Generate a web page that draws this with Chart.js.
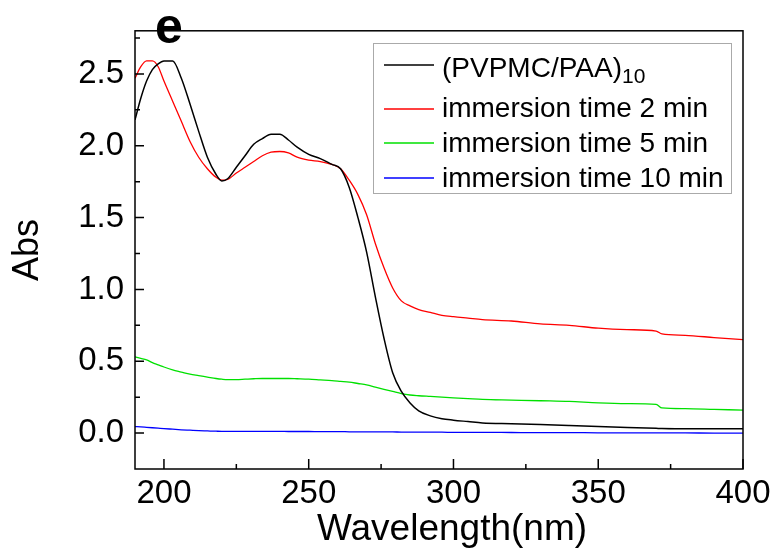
<!DOCTYPE html>
<html>
<head>
<meta charset="utf-8">
<script src="https://cdn.jsdelivr.net/npm/chart.js@4"></script>
<style>
  html, body { margin: 0; padding: 0; background: #fff; }
  #wrap { width: 777px; height: 552px; }
</style>
</head>
<body>
<div id="wrap"><canvas id="absChart" width="777" height="552"></canvas></div>
<script>
// wavelength grid (nm)
const wavelengths = [190, 192, 194, 196, 198, 200, 203, 206, 209, 212, 215, 218, 220, 222, 225, 228, 231, 234, 237, 240,
  243, 246, 250, 254, 258, 261, 264, 267, 270, 273, 276, 279, 282, 285, 288, 292, 296, 300, 305, 310,
  320, 330, 340, 350, 360, 370, 372, 380, 390, 400];

// absorbance of each film
const pvpmcPaa = [2.18, 2.33, 2.45, 2.53, 2.57, 2.59, 2.59, 2.47, 2.29, 2.10, 1.92, 1.80, 1.755, 1.77, 1.85, 1.93, 2.01, 2.05, 2.08, 2.08,
  2.04, 1.99, 1.94, 1.91, 1.87, 1.84, 1.71, 1.50, 1.26, 0.95, 0.66, 0.42, 0.29, 0.21, 0.155, 0.12, 0.10, 0.09, 0.08, 0.07,
  0.065, 0.06, 0.053, 0.045, 0.038, 0.033, 0.032, 0.03, 0.03, 0.03];
const immersion2 = [2.47, 2.55, 2.59, 2.59, 2.55, 2.45, 2.31, 2.17, 2.03, 1.92, 1.84, 1.78, 1.76, 1.765, 1.81, 1.85, 1.89, 1.93, 1.955, 1.96,
  1.95, 1.92, 1.90, 1.89, 1.87, 1.84, 1.76, 1.66, 1.52, 1.32, 1.15, 1.01, 0.92, 0.885, 0.86, 0.84, 0.82, 0.81, 0.80, 0.79,
  0.78, 0.76, 0.75, 0.73, 0.72, 0.71, 0.69, 0.68, 0.665, 0.65];
const immersion5 = [0.53, 0.52, 0.51, 0.49, 0.475, 0.46, 0.44, 0.425, 0.41, 0.40, 0.39, 0.38, 0.375, 0.372, 0.372, 0.375, 0.378, 0.38, 0.38, 0.38,
  0.38, 0.378, 0.375, 0.37, 0.365, 0.36, 0.355, 0.345, 0.335, 0.32, 0.305, 0.29, 0.275, 0.265, 0.26, 0.255, 0.25, 0.245, 0.24, 0.235,
  0.23, 0.225, 0.22, 0.21, 0.205, 0.2, 0.175, 0.17, 0.165, 0.16];
const immersion10 = [0.045, 0.043, 0.04, 0.037, 0.034, 0.031, 0.027, 0.023, 0.02, 0.017, 0.015, 0.013, 0.012, 0.012, 0.012, 0.012, 0.012, 0.012, 0.012, 0.012,
  0.011, 0.011, 0.011, 0.01, 0.01, 0.01, 0.009, 0.009, 0.009, 0.008, 0.008, 0.008, 0.007, 0.007, 0.007, 0.006, 0.006, 0.005, 0.005, 0.005,
  0.004, 0.003, 0.003, 0.002, 0.002, 0.001, 0.001, 0.001, 0.0, 0.0];

const seriesNames = ['(PVPMC/PAA)', 'immersion time 2 min', 'immersion time 5 min', 'immersion time 10 min'];
const seriesColors = ['#000000', '#ff0000', '#00e000', '#0000ff'];

// axis ticks
const xMajor = [200, 250, 300, 350, 400];
const xMinor = [225, 275, 325, 375];
const yMajor = [0.0, 0.5, 1.0, 1.5, 2.0, 2.5];
const yMinor = [0.25, 0.75, 1.25, 1.75, 2.25, 2.75];

const toPoints = (vals) => wavelengths.map((w, i) => ({ x: w, y: vals[i] }));

const allSeries = [pvpmcPaa, immersion2, immersion5, immersion10];
const datasets = allSeries.map((vals, i) => ({
  label: seriesNames[i],
  data: toPoints(vals),
  borderColor: seriesColors[i],
  borderWidth: i === 0 ? 1.5 : 1.3,
  pointRadius: 0,
  cubicInterpolationMode: 'monotone',
  fill: false
}));

const FONT = '"Liberation Sans", Arial, sans-serif';

// frame, inward ticks, legend and labels
const decorations = {
  id: 'decorations',
  afterDraw(chart) {
    const { ctx, chartArea: a, scales: { x, y } } = chart;
    ctx.save();
    ctx.strokeStyle = '#000';
    ctx.lineWidth = 1.5;
    ctx.strokeRect(a.left, a.top, a.right - a.left, a.bottom - a.top);

    ctx.beginPath();
    xMajor.forEach(v => { const px = x.getPixelForValue(v); ctx.moveTo(px, a.bottom); ctx.lineTo(px, a.bottom - 10); });
    xMinor.forEach(v => { const px = x.getPixelForValue(v); ctx.moveTo(px, a.bottom); ctx.lineTo(px, a.bottom - 5); });
    yMajor.forEach(v => { const py = y.getPixelForValue(v); ctx.moveTo(a.left, py); ctx.lineTo(a.left + 9, py); });
    yMinor.forEach(v => { const py = y.getPixelForValue(v); ctx.moveTo(a.left, py); ctx.lineTo(a.left + 5, py); });
    ctx.stroke();

    // panel letter
    ctx.fillStyle = '#000';
    ctx.font = 'bold 50px ' + FONT;
    ctx.textBaseline = 'alphabetic';
    ctx.fillText('e', 155, 43);

    // x title
    ctx.font = '37px ' + FONT;
    ctx.textAlign = 'center';
    ctx.textBaseline = 'middle';
    ctx.fillText('Wavelength(nm)', 452, 530);

    // legend
    ctx.textAlign = 'left';
    ctx.textBaseline = 'alphabetic';
    ctx.strokeStyle = '#aaaaaa';
    ctx.lineWidth = 1;
    ctx.strokeRect(373.5, 43.5, 358, 150);
    const lineY = [65, 109, 143, 178];
    const textY = [77, 117, 152, 187];
    seriesNames.forEach((name, i) => {
      ctx.strokeStyle = seriesColors[i];
      ctx.lineWidth = 1.3;
      ctx.beginPath();
      ctx.moveTo(384, lineY[i]);
      ctx.lineTo(434, lineY[i]);
      ctx.stroke();
      ctx.fillStyle = '#000';
      ctx.font = '28px ' + FONT;
      ctx.fillText(name, 442, textY[i]);
      if (i === 0) {
        const w = ctx.measureText(name).width;
        ctx.font = '21px ' + FONT;
        ctx.fillText('10', 442 + w, textY[i] + 6);
      }
    });
    ctx.restore();
  }
};

const ctx = document.getElementById('absChart').getContext('2d');
const chart = new Chart(ctx, {
  type: 'line',
  data: { datasets: datasets },
  plugins: [decorations],
  options: {
    responsive: false,
    animation: false,
    layout: { padding: { top: 12, right: 34, bottom: 0, left: 0 } },
    plugins: { legend: { display: false }, tooltip: { enabled: false } },
    scales: {
      x: {
        type: 'linear',
        min: 190,
        max: 400,
        afterBuildTicks: (scale) => { scale.ticks = xMajor.map(v => ({ value: v })); },
        afterFit: (scale) => { scale.height = 83; },
        grid: { display: false, drawTicks: false },
        border: { display: false },
        ticks: { color: '#000', font: { family: FONT, size: 33 }, padding: 5, maxRotation: 0 }
      },
      y: {
        type: 'linear',
        min: -0.25,
        max: 2.8,
        afterBuildTicks: (scale) => { scale.ticks = yMajor.map(v => ({ value: v })); },
        afterFit: (scale) => { scale.width = 135; },
        grid: { display: false, drawTicks: false },
        border: { display: false },
        ticks: {
          color: '#000',
          font: { family: FONT, size: 33 },
          padding: 11,
          callback: (v) => Number(v).toFixed(1)
        },
        title: {
          display: true,
          text: 'Abs',
          color: '#000',
          font: { family: FONT, size: 36 },
          padding: { top: 6, bottom: 0 }
        }
      }
    }
  }
});
</script>
</body>
</html>
